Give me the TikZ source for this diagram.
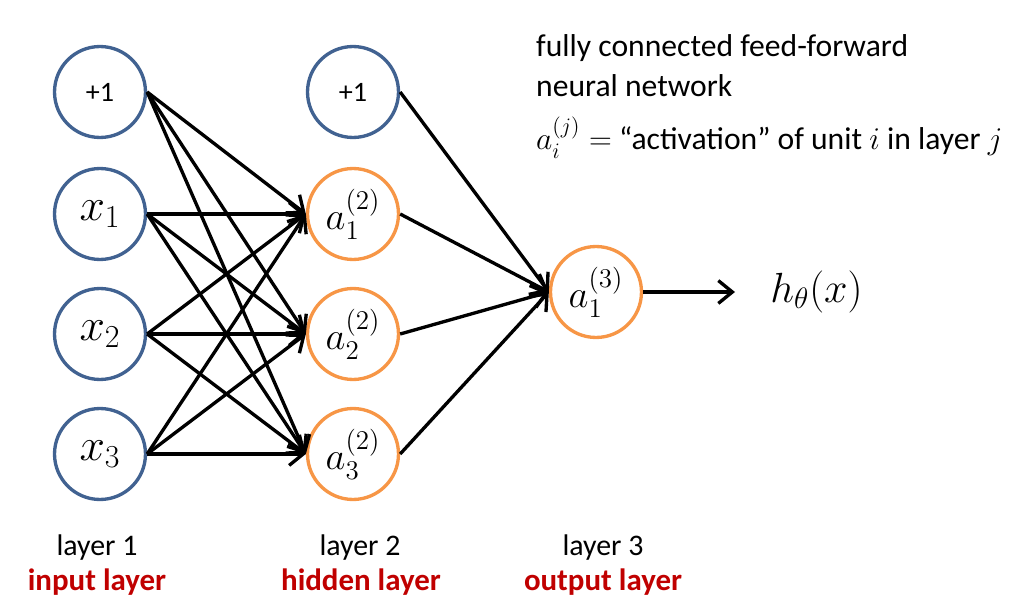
\RequirePackage{fix-cm}
\documentclass[tikz,border=0pt]{standalone}
\usepackage{amsmath}
\usepackage{fontspec}
\setmainfont{Carlito}
\usepackage{xcolor}
\usetikzlibrary{arrows.meta,positioning}
\definecolor{unitblue}{RGB}{65,98,145}
\definecolor{unitorange}{RGB}{247,150,70}
\definecolor{layerred}{RGB}{192,0,0}

\begin{document}
\begin{tikzpicture}[x=0.02cm, y=-0.02cm,
    unit/.style={circle, draw, line width=1.9pt, minimum size=1.82cm, inner sep=0pt},
    inunit/.style={unit, draw=unitblue},
    hidunit/.style={unit, draw=unitorange},
    link/.style={-{Straight Barb[length=8pt,width=13pt]}, line width=1.9pt},
    lbl/.style={font=\fontsize{17}{20}\selectfont, anchor=base},
    redlbl/.style={lbl, font=\fontsize{17.6}{20}\selectfont\bfseries, text=layerred},
    desc/.style={font=\fontsize{18}{22}\selectfont, anchor=base west}]
    \useasboundingbox (0,0) rectangle (1025,608);

    % Input layer
    \node[inunit] (b1) at (100,92) {\fontsize{16}{18}\selectfont +1};
    \node[inunit] (x1) at (100,214) {\fontsize{26}{30}\selectfont $x_1$};
    \node[inunit] (x2) at (100,334) {\fontsize{26}{30}\selectfont $x_2$};
    \node[inunit] (x3) at (100,454) {\fontsize{26}{30}\selectfont $x_3$};

    % Hidden layer
    \node[inunit] (b2) at (353,92) {\fontsize{16}{18}\selectfont +1};
    \node[hidunit] (a1) at (353,214) {\fontsize{22}{26}\selectfont $a^{(2)}_1$};
    \node[hidunit] (a2) at (353,334) {\fontsize{22}{26}\selectfont $a^{(2)}_2$};
    \node[hidunit] (a3) at (353,454) {\fontsize{22}{26}\selectfont $a^{(2)}_3$};

    % Output layer
    \node[hidunit] (o) at (596,292) {\fontsize{22}{26}\selectfont $a^{(3)}_1$};
    \node[inner xsep=0.7cm, inner ysep=0pt, anchor=west] (h) at (735,292)
        {\fontsize{24}{28}\selectfont $h_\theta(x)$};

    % Connections
    \foreach \s in {b1,x1,x2,x3}
        \foreach \t in {a1,a2,a3}
            \draw[link] (\s.east) -- (\t.west);
    \foreach \s in {b2,a1,a2,a3}
        \draw[link] (\s.east) -- (o.west);
    \draw[link] (o.east) -- (h.west);

    % Description
    \node[desc] (title) at (530,57) {fully connected feed-forward};
    \node[desc] (title2) at (530,97) {neural network};
    \node[desc] (defn) at (530,150)
        {$a^{(j)}_i =$ “activation” of unit $i$ in layer $j$};

    % Layer labels
    \node[lbl] (l1) at (97,555) {layer 1};
    \node[redlbl] (r1) at (97,590) {input layer};
    \node[lbl] (l2) at (360,555) {layer 2};
    \node[redlbl] (r2) at (361,590) {hidden layer};
    \node[lbl] (l3) at (603,555) {layer 3};
    \node[redlbl] (r3) at (603,590) {output layer};
\end{tikzpicture}
\end{document}
